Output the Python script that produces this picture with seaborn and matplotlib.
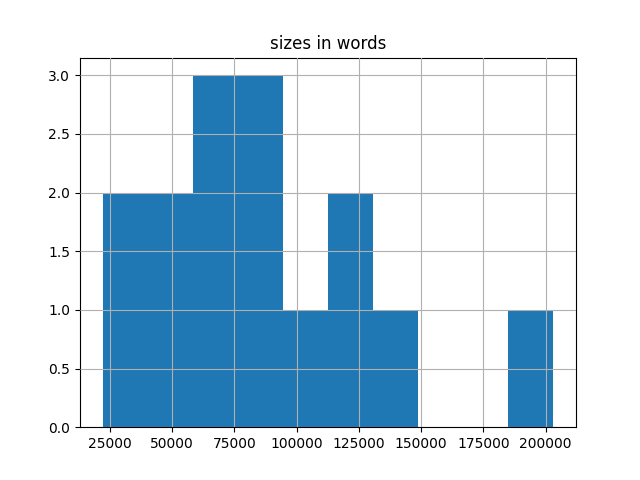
import numpy as np
import pandas as pd
import seaborn as sns
import matplotlib
matplotlib.use('Agg')
import matplotlib.pyplot as plt

# word counts per book
sizes = [22060, 35000, 45000, 52000, 62000, 68000, 72000, 80000,
         85000, 90000, 100000, 118000, 125000, 140000, 203100]

df = pd.DataFrame({'sizes in words': sizes})

fig, ax = plt.subplots(figsize=(6.4, 4.8), dpi=100)
sns.histplot(data=df, x='sizes in words', bins=10, ax=ax,
             color='#1f77b4', alpha=1, edgecolor=None, linewidth=0)
ax.set_axisbelow(False)
ax.grid(True, color='#b0b0b0', linewidth=0.8)
ax.set_title('sizes in words')
ax.set_xlabel('')
ax.set_ylabel('')
ax.set_ylim(0, 3.15)

fig.savefig('out.png')
